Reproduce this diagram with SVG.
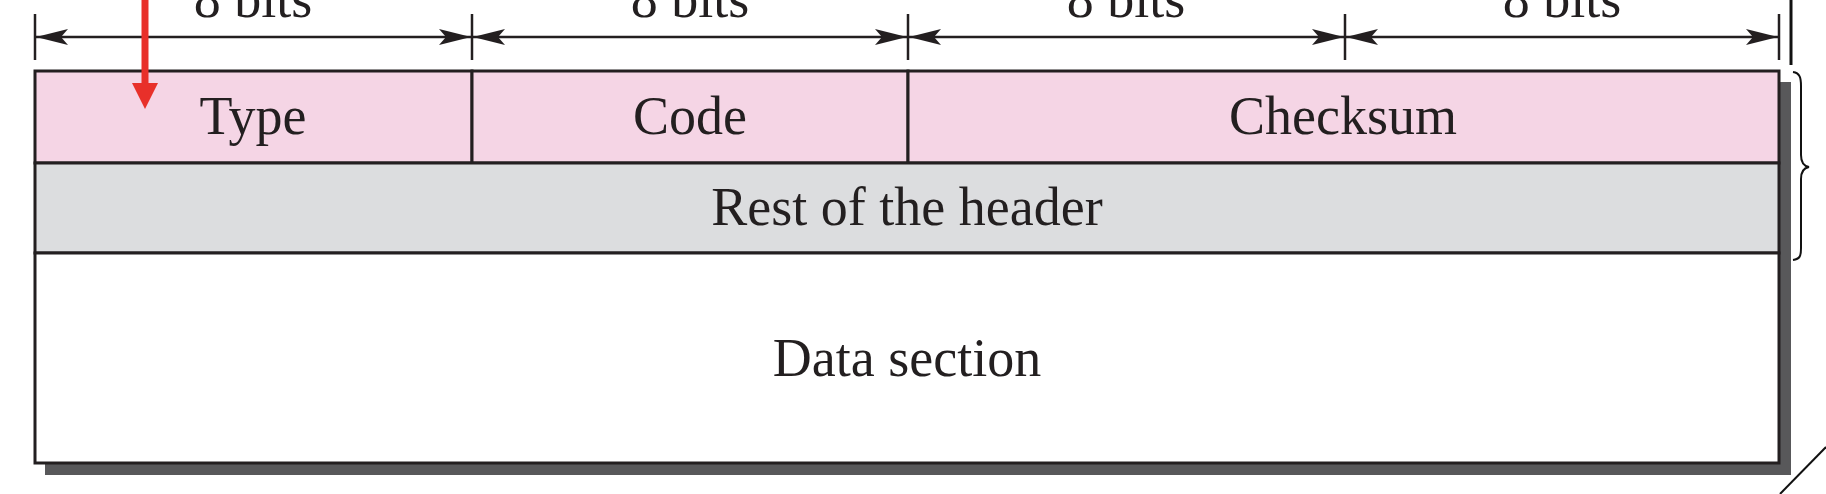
<svg xmlns="http://www.w3.org/2000/svg" width="1826" height="494" viewBox="0 0 1826 494">
<style>
.t{font-family:"Liberation Serif","Times New Roman",serif;font-size:54px;fill:#231f20;text-anchor:middle}
.cell{stroke:#231f20;stroke-width:3}
.dim{stroke:#231f20;stroke-width:2.5;fill:none}
.tick{stroke:#231f20;stroke-width:2.5}
</style>
<defs>
<marker id="ah" viewBox="0 0 32 18" refX="32" refY="9" markerWidth="32" markerHeight="18" markerUnits="userSpaceOnUse" orient="auto-start-reverse">
<path d="M0,1 L32,9 L0,17 L7,9 Z" fill="#231f20"/>
</marker>
</defs>
<rect width="1826" height="494" fill="#fff"/>
<g id="shadow"><rect x="45" y="82" width="1746" height="393" fill="#58585a"/></g>
<g id="type"><rect class="cell" x="35" y="71" width="437" height="92" fill="#f5d5e5"/><text class="t" x="253" y="134">Type</text></g>
<g id="code"><rect class="cell" x="472" y="71" width="436" height="92" fill="#f5d5e5"/><text class="t" x="690" y="134">Code</text></g>
<g id="checksum"><rect class="cell" x="908" y="71" width="871" height="92" fill="#f5d5e5"/><text class="t" x="1343" y="134">Checksum</text></g>
<g id="rest"><rect class="cell" x="35" y="163" width="1744" height="90" fill="#dcdddf"/><text class="t" x="907" y="225">Rest of the header</text></g>
<g id="data"><rect class="cell" x="35" y="253" width="1744" height="210" fill="#ffffff"/><text class="t" x="907" y="376">Data section</text></g>
<g id="labels">
<text class="t" x="253" y="17">8 bits</text>
<text class="t" x="690" y="17">8 bits</text>
<text class="t" x="1126" y="17">8 bits</text>
<text class="t" x="1562" y="17">8 bits</text>
</g>
<g id="connectors">
<line class="tick" x1="35" y1="14" x2="35" y2="60"/>
<line class="tick" x1="472" y1="14" x2="472" y2="60"/>
<line class="tick" x1="908" y1="14" x2="908" y2="60"/>
<line class="tick" x1="1345" y1="14" x2="1345" y2="60"/>
<line class="tick" x1="1779" y1="14" x2="1779" y2="60"/>
<line class="dim" x1="36" y1="37" x2="471" y2="37" marker-start="url(#ah)" marker-end="url(#ah)"/>
<line class="dim" x1="473" y1="37" x2="907" y2="37" marker-start="url(#ah)" marker-end="url(#ah)"/>
<line class="dim" x1="909" y1="37" x2="1344" y2="37" marker-start="url(#ah)" marker-end="url(#ah)"/>
<line class="dim" x1="1346" y1="37" x2="1778" y2="37" marker-start="url(#ah)" marker-end="url(#ah)"/>
<line x1="145" y1="0" x2="145" y2="86" stroke="#e8302a" stroke-width="7"/>
<path d="M132,83 L158,83 L145,109 Z" fill="#e8302a"/>
<line x1="1791" y1="0" x2="1791" y2="65" stroke="#111" stroke-width="3"/>
<path d="M1793,72 C1800,73 1801,78 1801,86 L1801,155 C1801,162 1803,166 1809,167 C1803,168 1801,172 1801,179 L1801,248 C1801,256 1800,259 1793,260" fill="none" stroke="#111" stroke-width="2"/>
<line x1="1826" y1="447" x2="1780" y2="494" stroke="#111" stroke-width="2"/>
</g>
</svg>
